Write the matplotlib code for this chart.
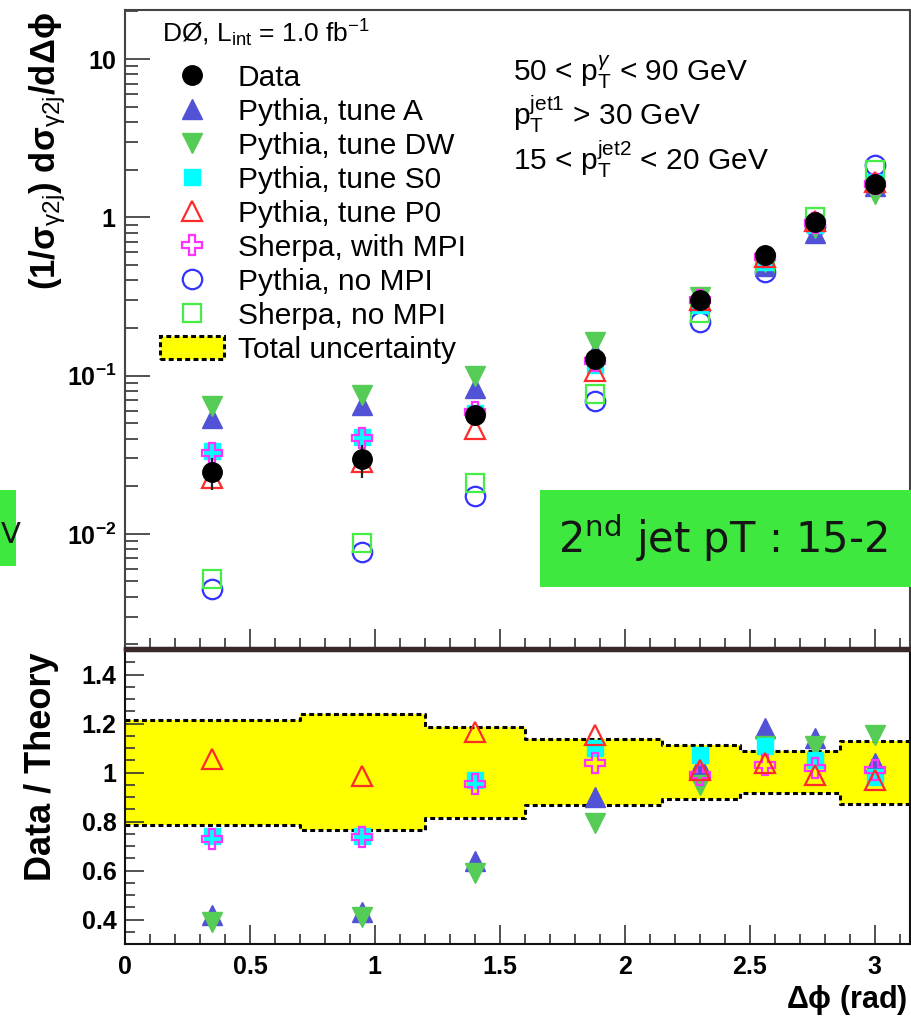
import numpy as np
import matplotlib
matplotlib.use('Agg')
import matplotlib.pyplot as plt
from matplotlib.ticker import MultipleLocator, LogLocator, FixedLocator, FuncFormatter, NullFormatter
from matplotlib.patches import Patch, Rectangle

plt.rcParams['font.family'] = ['Liberation Sans', 'DejaVu Sans']
plt.rcParams['mathtext.fontset'] = 'custom'
plt.rcParams['mathtext.rm'] = 'Liberation Sans'
plt.rcParams['mathtext.it'] = 'Liberation Sans:italic'
plt.rcParams['mathtext.bf'] = 'Liberation Sans:bold'

# ---------------- data ----------------
dphi = [0.35, 0.95, 1.40, 1.88, 2.30, 2.56, 2.76, 3.00]

data = [0.0245, 0.0295, 0.056, 0.127, 0.30, 0.58, 0.94, 1.63]
data_err = [0.0055, 0.007, 0.008, 0.012, 0.02, 0.03, 0.05, 0.09]

tuneA = [0.054, 0.065, 0.084, 0.140, 0.295, 0.49, 0.80, 1.58]
tuneDW = [0.064, 0.075, 0.099, 0.162, 0.315, 0.52, 0.85, 1.40]
tuneS0 = [0.0335, 0.041, 0.058, 0.117, 0.28, 0.52, 0.90, 1.68]
tuneP0 = [0.0225, 0.0285, 0.046, 0.107, 0.30, 0.56, 0.95, 1.66]
sherpaMPI = [0.0325, 0.0405, 0.059, 0.123, 0.30, 0.56, 0.92, 1.62]
pythiaNoMPI = [0.0045, 0.0077, 0.0174, 0.0695, 0.217, 0.45, 0.88, 2.13]
sherpaNoMPI = [0.0052, 0.0088, 0.021, 0.077, 0.25, 0.50, 1.00, 1.98]

ratioA = [0.42, 0.43, 0.64, 0.90, 1.03, 1.18, 1.14, 1.04]
ratioDW = [0.39, 0.41, 0.59, 0.795, 0.95, 1.11, 1.11, 1.155]
ratioS0 = [0.74, 0.74, 0.97, 1.10, 1.07, 1.11, 1.05, 0.98]
ratioP0 = [1.055, 0.985, 1.165, 1.155, 1.01, 1.04, 0.99, 0.97]
ratioSherpaMPI = [0.73, 0.735, 0.953, 1.04, 0.99, 1.03, 1.02, 1.01]

bin_edges = [0.0, 0.70, 1.20, 1.60, 2.15, 2.46, 2.86, np.pi]
unc_low = [0.784, 0.765, 0.815, 0.869, 0.890, 0.917, 0.873]
unc_high = [1.215, 1.240, 1.187, 1.135, 1.113, 1.087, 1.130]

labels = ['Data', 'Pythia, tune A', 'Pythia, tune DW', 'Pythia, tune S0',
          'Pythia, tune P0', 'Sherpa, with MPI', 'Pythia, no MPI',
          'Sherpa, no MPI', 'Total uncertainty']

# ---------------- styles ----------------
c_blueA = '#5252d6'
c_green = '#55cc55'
c_cyan = '#00ffff'
c_red = '#ff2a2a'
c_mag = '#ff33ff'
c_blue = '#3333ff'
c_sq = '#44ee44'
dots = (0, (1.6, 1.1))

W, H = 912, 1023
fig = plt.figure(figsize=(W / 100, H / 100), dpi=100)
ax1 = fig.add_axes([125 / W, 1 - 648 / H, 785 / W, 638 / H])
ax2 = fig.add_axes([125 / W, 1 - 944 / H, 785 / W, 294 / H], sharex=ax1)

# ---------------- top panel ----------------
h_noMPI, = ax1.plot(dphi, pythiaNoMPI, ls='none', marker='o', ms=14, mfc='none', mec=c_blue, mew=1.6, zorder=3)
h_sqNo, = ax1.plot(dphi, sherpaNoMPI, ls='none', marker='s', ms=13, mfc='none', mec=c_sq, mew=1.6, zorder=3)
h_A, = ax1.plot(dphi, tuneA, ls='none', marker='^', ms=14, color=c_blueA, zorder=3)
h_DW, = ax1.plot(dphi, tuneDW, ls='none', marker='v', ms=14, color=c_green, zorder=3)
h_S0, = ax1.plot(dphi, tuneS0, ls='none', marker='s', ms=12, color=c_cyan, zorder=3)
h_MPI, = ax1.plot(dphi, sherpaMPI, ls='none', marker='P', ms=14, mfc='none', mec=c_mag, mew=1.6, zorder=3)
h_P0, = ax1.plot(dphi, tuneP0, ls='none', marker='^', ms=14, mfc='none', mec=c_red, mew=1.6, zorder=3)
eb = ax1.errorbar(dphi, data, yerr=data_err, fmt='o', ms=14, color='black', ecolor='#222222',
                  elinewidth=1.6, capsize=0, zorder=5)
h_data = eb[0]

ax1.set_yscale('log')
ax1.set_ylim(0.0019, 20.4)
ax1.set_xlim(0, np.pi)

band_proxy = Patch(facecolor='yellow', edgecolor='black', linestyle=dots, linewidth=2.2)
handles = [h_data, h_A, h_DW, h_S0, h_P0, h_MPI, h_noMPI, h_sqNo, band_proxy]
leg = ax1.legend(handles, labels, loc='upper left', bbox_to_anchor=(0.0446, 0.9154),
                 frameon=False, fontsize=21.5, handlelength=2.14, handleheight=0.8,
                 handletextpad=0.47, labelspacing=0.2, borderpad=0, borderaxespad=0)
ax1.text(0.047, 0.9498, r'DØ, L$_{\rm int}$ = 1.0 fb$^{-1}$', transform=ax1.transAxes,
         fontsize=19, ha='left', va='baseline')

txt_kw = dict(transform=ax1.transAxes, fontsize=21.5, ha='left', va='baseline')
ax1.text(0.494, 0.8887, r'50 < p$_{\rm T}^{\gamma}$ < 90 GeV', **txt_kw)
ax1.text(0.494, 0.8197, r'p$_{\rm T}^{\rm jet1}$ > 30 GeV', **txt_kw)
ax1.text(0.494, 0.7492, r'15 < p$_{\rm T}^{\rm jet2}$ < 20 GeV', **txt_kw)

ax1.yaxis.set_major_locator(FixedLocator([0.01, 0.1, 1, 10]))
ax1.yaxis.set_minor_locator(LogLocator(base=10, subs=np.arange(2, 10)))
ax1.yaxis.set_minor_formatter(NullFormatter())
ylab = {0.01: r'$\mathbf{10^{-2}}$', 0.1: r'$\mathbf{10^{-1}}$', 1: r'$\mathbf{1}$', 10: r'$\mathbf{10}$'}
ax1.yaxis.set_major_formatter(FuncFormatter(lambda v, p: ylab.get(round(v, 3), '')))

# ---------------- bottom panel ----------------
lo = unc_low + [unc_low[-1]]
hi = unc_high + [unc_high[-1]]
ax2.fill_between(bin_edges, lo, hi, step='post', color='yellow', lw=0, zorder=1)
ax2.step(bin_edges, lo, where='post', color='black', lw=2.2, ls=dots, zorder=2)
ax2.step(bin_edges, hi, where='post', color='black', lw=2.2, ls=dots, zorder=2)

ax2.plot(dphi, ratioA, ls='none', marker='^', ms=14, color=c_blueA, zorder=3)
ax2.plot(dphi, ratioDW, ls='none', marker='v', ms=14, color=c_green, zorder=3)
ax2.plot(dphi, ratioS0, ls='none', marker='s', ms=12, color=c_cyan, zorder=3)
ax2.plot(dphi, ratioSherpaMPI, ls='none', marker='P', ms=14, mfc='none', mec=c_mag, mew=1.6, zorder=4)
ax2.plot(dphi, ratioP0, ls='none', marker='^', ms=14, mfc='none', mec=c_red, mew=1.6, zorder=4)

ax2.set_ylim(0.3, 1.5)
ax2.yaxis.set_major_locator(FixedLocator([0.4, 0.6, 0.8, 1.0, 1.2, 1.4]))
ax2.yaxis.set_minor_locator(MultipleLocator(0.05))
ax2.yaxis.set_major_formatter(FuncFormatter(lambda v, p: '%g' % round(v, 2)))
ax2.xaxis.set_major_locator(MultipleLocator(0.5))
ax2.xaxis.set_minor_locator(MultipleLocator(0.1))
ax2.xaxis.set_major_formatter(FuncFormatter(lambda v, p: '%g' % round(v, 2)))

# ---------------- axis styling ----------------
for ax in (ax1, ax2):
    ax.tick_params(which='both', direction='in', top=False, right=False, colors='#333333')
    ax.tick_params(which='major', length=14, width=1.2)
    ax.tick_params(which='minor', length=7, width=1.2)
    ax.tick_params(axis='both', labelsize=18)
    for lab in ax.get_yticklabels() + ax.get_xticklabels():
        lab.set_fontweight('bold')
        lab.set_color('black')
    for s in ax.spines.values():
        s.set_color('#444444')
        s.set_linewidth(1.5)
ax1.tick_params(axis='x', labelbottom=False)
ax1.tick_params(axis='y', which='major', length=18, pad=6)
ax1.tick_params(axis='y', which='minor', length=9)
ax1.spines['bottom'].set_color('#3a2828')
ax1.spines['bottom'].set_linewidth(2.5)
ax2.spines['top'].set_color('#3a2828')
ax2.spines['top'].set_linewidth(2.5)
for s in ('left', 'bottom', 'right'):
    ax2.spines[s].set_color('#111111')
ax2.tick_params(axis='x', pad=8)
ax2.tick_params(axis='y', pad=6)

fig.text(48 / W, 1 - 12 / H,
         r'$\mathbf{(1/\sigma}_{\mathrm{\gamma 2j}}\mathbf{)\ d\sigma}_{\mathrm{\gamma 2j}}\mathbf{/d\Delta\phi}$',
         rotation=90, ha='center', va='top', fontsize=25)
fig.text(42 / W, 1 - 652 / H, 'Data / Theory', rotation=90, ha='center', va='top',
         fontsize=26, fontweight='bold')
fig.text(908 / W, 1 - 1000 / H, r'$\mathbf{\Delta\phi}$ (rad)', ha='right', va='center',
         fontsize=22, fontweight='bold')

# ---------------- overlay boxes ----------------
fig.add_artist(Rectangle((540 / W, 1 - 587 / H), 400 / W, 97 / H, transform=fig.transFigure,
                         facecolor='#3ee83e', edgecolor='none', zorder=10))
fig.add_artist(Rectangle((-10 / W, 1 - 566 / H), 26 / W, 76 / H, transform=fig.transFigure,
                         facecolor='#3ee83e', edgecolor='none', zorder=10))
fig.text(558 / W, 1 - 553 / H, r'2$^{\rm nd}$ jet pT : 15-2', ha='left', va='baseline',
         fontsize=30, family='DejaVu Sans', math_fontfamily='dejavusans', color='#151515', zorder=11)
fig.text(1 / W, 1 - 543 / H, 'V', ha='left', va='baseline',
         fontsize=21, family='DejaVu Sans', color='#151515', zorder=11)

fig.savefig('out.png', dpi=100)
